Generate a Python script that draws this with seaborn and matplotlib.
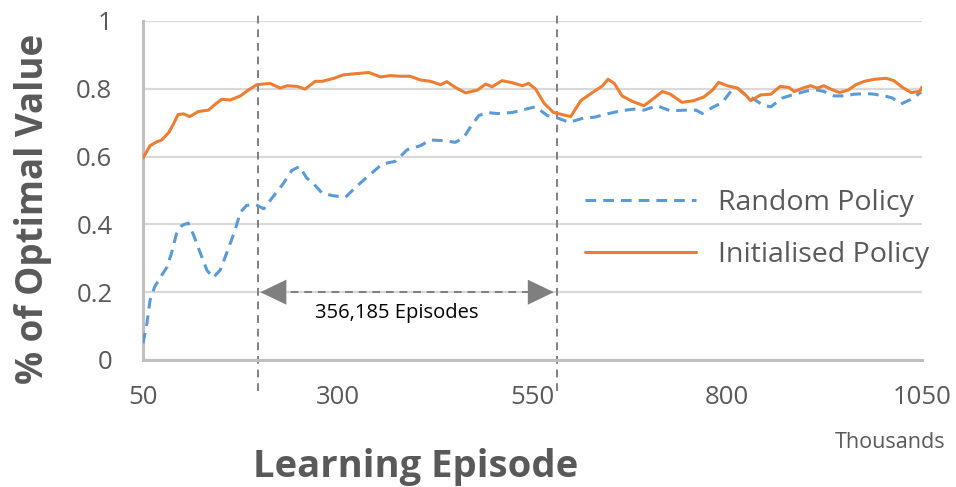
import pandas as pd
import matplotlib
matplotlib.use("Agg")
import matplotlib.pyplot as plt
import seaborn as sns

# Initialised policy (x in thousands of episodes)
init_x = [50, 59, 68, 74, 83, 89, 95, 102, 110, 121, 134, 143, 151, 162, 175, 185, 196, 213, 226, 235,
          248, 258, 271, 280, 295, 307, 325, 340, 355, 368, 380, 393, 406, 419, 432, 440, 451, 464, 479, 490,
          498, 511, 524, 537, 545, 554, 565, 577, 599, 612, 627, 640, 647, 655, 665, 678, 693, 704, 717, 727,
          742, 757, 770, 781, 789, 800, 813, 822, 830, 843, 856, 868, 879, 886, 897, 907, 916, 924, 933, 944,
          955, 965, 976, 989, 1004, 1014, 1025, 1036, 1047, 1050]
init_y = [0.596, 0.632, 0.644, 0.649, 0.671, 0.696, 0.724, 0.726, 0.718, 0.733, 0.737, 0.755, 0.769, 0.767, 0.779, 0.796, 0.812, 0.816, 0.802, 0.809,
          0.807, 0.799, 0.822, 0.822, 0.831, 0.841, 0.845, 0.848, 0.835, 0.839, 0.837, 0.837, 0.826, 0.822, 0.812, 0.821, 0.804, 0.788, 0.796, 0.814,
          0.806, 0.824, 0.818, 0.809, 0.816, 0.799, 0.757, 0.730, 0.718, 0.765, 0.789, 0.809, 0.828, 0.816, 0.779, 0.763, 0.750, 0.769, 0.792, 0.784,
          0.760, 0.765, 0.776, 0.796, 0.819, 0.809, 0.802, 0.786, 0.765, 0.782, 0.784, 0.807, 0.804, 0.792, 0.802, 0.809, 0.802, 0.809, 0.799, 0.789,
          0.796, 0.812, 0.822, 0.828, 0.831, 0.824, 0.804, 0.789, 0.792, 0.805]

# Random policy
rand_x = [50, 55, 59, 65, 74, 81, 87, 93, 100, 108, 115, 123, 132, 140, 149, 158, 168, 175, 183, 194,
          205, 218, 230, 241, 251, 260, 269, 280, 293, 310, 323, 340, 357, 374, 389, 406, 419, 436, 451, 462,
          470, 481, 492, 505, 524, 545, 554, 569, 582, 597, 616, 629, 648, 663, 680, 693, 710, 727, 745, 760,
          768, 781, 794, 805, 813, 822, 832, 847, 856, 871, 886, 903, 916, 924, 937, 950, 963, 978, 989, 1002,
          1012, 1023, 1036, 1049]
rand_y = [0.049, 0.108, 0.176, 0.216, 0.250, 0.275, 0.319, 0.373, 0.397, 0.404, 0.368, 0.319, 0.265, 0.243, 0.265, 0.319, 0.382, 0.436, 0.456, 0.459,
          0.446, 0.485, 0.520, 0.559, 0.571, 0.537, 0.520, 0.492, 0.485, 0.480, 0.510, 0.544, 0.578, 0.586, 0.620, 0.632, 0.649, 0.647, 0.642, 0.657,
          0.686, 0.721, 0.730, 0.727, 0.730, 0.742, 0.747, 0.721, 0.714, 0.701, 0.714, 0.716, 0.727, 0.735, 0.740, 0.737, 0.750, 0.735, 0.737, 0.737,
          0.727, 0.745, 0.760, 0.794, 0.802, 0.784, 0.773, 0.750, 0.747, 0.773, 0.784, 0.794, 0.796, 0.792, 0.779, 0.779, 0.784, 0.786, 0.784, 0.779,
          0.773, 0.755, 0.769, 0.790]

series_names = ["Random Policy", "Initialised Policy"]
colors = {"Random Policy": "#5B9BD5", "Initialised Policy": "#ED7D31"}

x_ticks = [50, 300, 550, 800, 1050]
y_ticks = [0, 0.2, 0.4, 0.6, 0.8, 1]
y_tick_labels = ["0", "0.2", "0.4", "0.6", "0.8", "1"]

marker_start = 197   # dashed vertical lines (thousands)
marker_end = 581
span_label = "356,185 Episodes"

df = pd.concat([
    pd.DataFrame({"episode": rand_x, "value": rand_y, "policy": series_names[0]}),
    pd.DataFrame({"episode": init_x, "value": init_y, "policy": series_names[1]}),
])

sns.set_style("white")
plt.rcParams["font.family"] = ["Open Sans", "DejaVu Sans"]

fig = plt.figure(figsize=(9.56, 4.87), dpi=100)
ax = fig.add_axes([0.1496, 0.2608, 0.8148, 0.6961])

sns.lineplot(data=df, x="episode", y="value", hue="policy", style="policy",
             hue_order=series_names, style_order=series_names, palette=colors,
             dashes={"Random Policy": (3.5, 2.3), "Initialised Policy": ""},
             linewidth=2.2, sort=False, ax=ax, zorder=3)

ax.set_xlim(50, 1050)
ax.set_ylim(0, 1)
ax.set_xticks(x_ticks)
ax.set_yticks(y_ticks)
ax.set_yticklabels(y_tick_labels)
ax.grid(axis="y", color="#D9D9D9", linewidth=1.6)
ax.grid(axis="x", visible=False)
for s in ["top", "right"]:
    ax.spines[s].set_visible(False)
ax.spines["left"].set_color("#BFBFBF")
ax.spines["left"].set_linewidth(2.2)
ax.spines["bottom"].set_color("#BFBFBF")
ax.spines["bottom"].set_linewidth(2.2)
ax.tick_params(length=0, labelsize=18.5, labelcolor="#595959")
ax.tick_params(axis="x", pad=18)
ax.tick_params(axis="y", pad=22)

ax.set_xlabel("Learning Episode", fontsize=27.5, fontweight="bold", color="#595959")
ax.xaxis.label.set_va("baseline")
ax.xaxis.set_label_coords(0.35, -0.344)
ax.set_ylabel("% of Optimal Value", fontsize=26.5, fontweight="bold", color="#595959")
ax.yaxis.label.set_va("baseline")
ax.yaxis.set_label_coords(-0.128, 0.446)

ax.text(1.0295, -0.259, "Thousands", transform=ax.transAxes, ha="right", va="baseline",
        fontsize=15.5, color="#595959")

# vertical markers
for xv in [marker_start, marker_end]:
    ax.plot([xv, xv], [-0.09, 1.03], color="#7F7F7F", linestyle=(0, (4, 3)),
            linewidth=1.4, clip_on=False, zorder=2)

# span arrow
ax.plot([marker_start + 25, marker_end - 25], [0.2, 0.2], color="#7F7F7F",
        linestyle=(0, (4, 3)), linewidth=1.4, zorder=2)
for tip, tail in [(marker_start, marker_start + 35), (marker_end, marker_end - 35)]:
    ax.annotate("", xy=(tip, 0.2), xytext=(tail, 0.2),
                arrowprops=dict(arrowstyle="-|>,head_length=1.25,head_width=0.6",
                                color="#7F7F7F", lw=0, mutation_scale=15))
ax.text(376, 0.138, span_label, ha="center", va="center", fontsize=14.5, color="black")

leg = ax.legend(loc="center left", bbox_to_anchor=(0.534, 0.387), frameon=False,
                fontsize=20.5, handlelength=3.9, handletextpad=0.77, labelspacing=0.85)
for t in leg.get_texts():
    t.set_color("#595959")

fig.savefig("out.png", dpi=100)
